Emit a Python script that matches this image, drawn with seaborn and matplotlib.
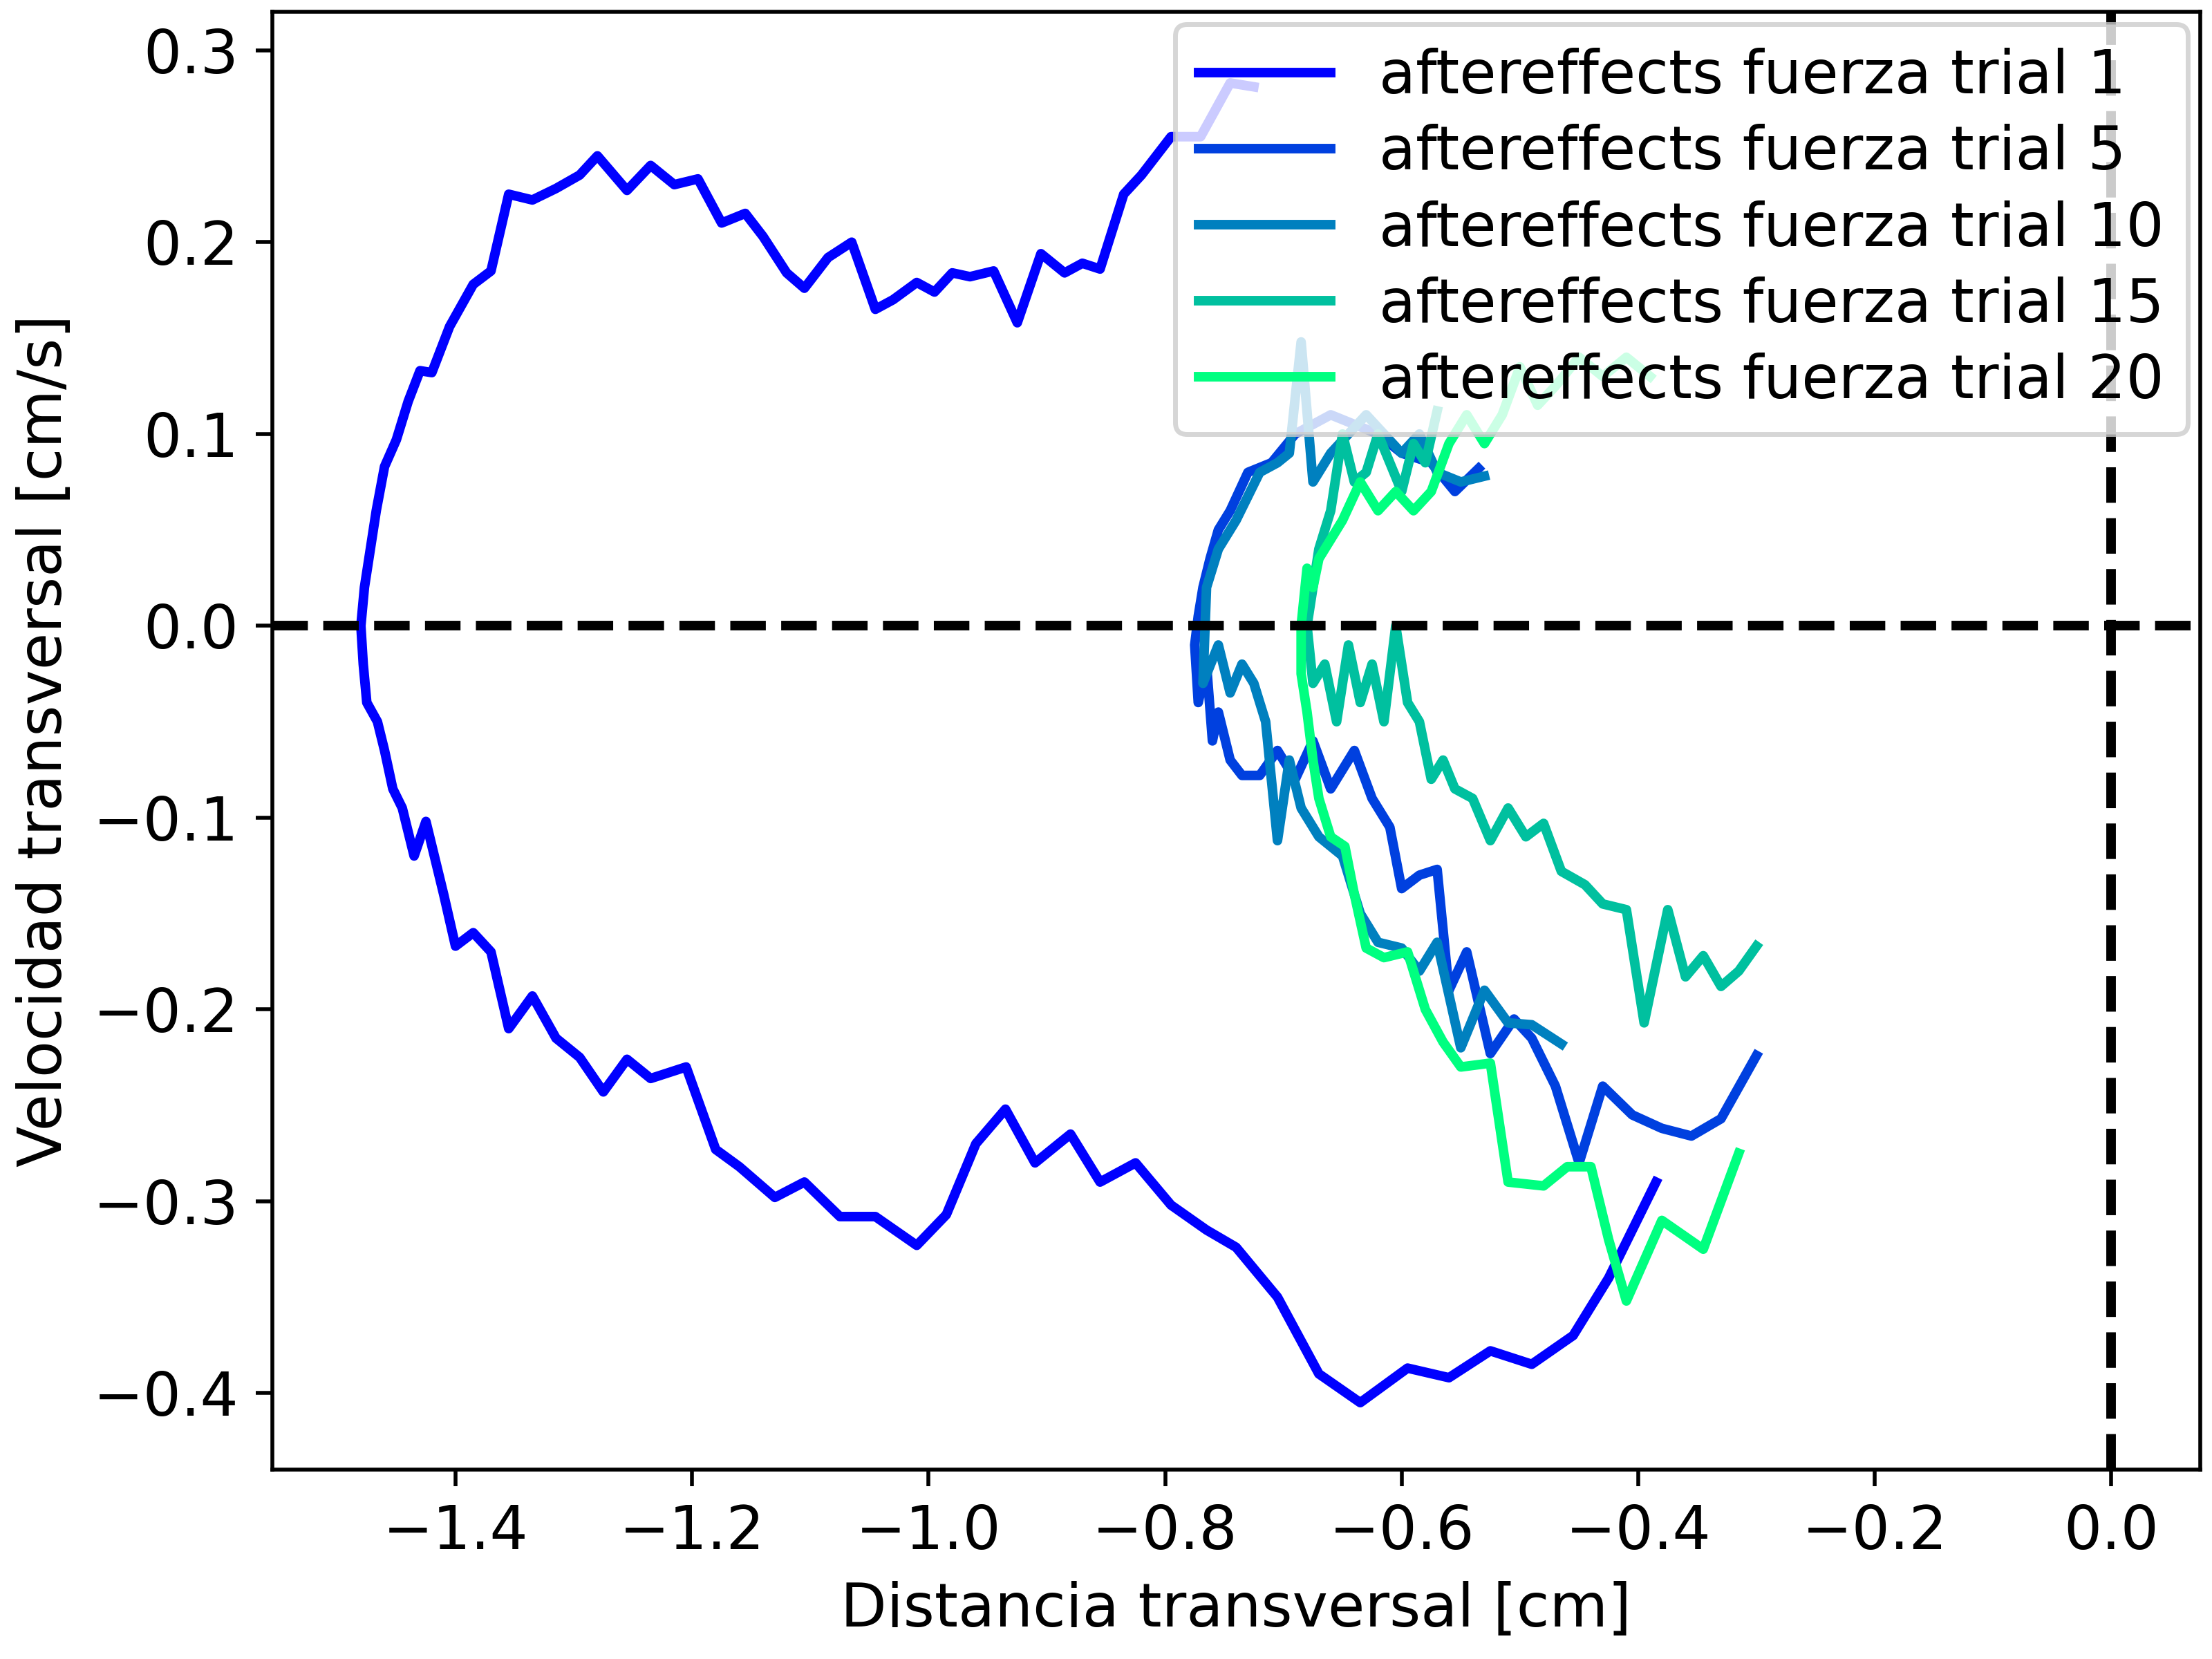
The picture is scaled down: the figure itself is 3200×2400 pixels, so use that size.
import numpy as np
import pandas as pd
import matplotlib
matplotlib.use("Agg")
import matplotlib.pyplot as plt
import seaborn as sns

trial1_x = [-0.725, -0.745, -0.77, -0.795, -0.82, -0.835, -0.855, -0.87, -0.885, -0.905, -0.925, -0.945, -0.965, -0.98, -0.995, -1.01, -1.03, -1.045, -1.065, -1.085, -1.105, -1.12, -1.14, -1.155, -1.175, -1.195, -1.215, -1.235, -1.255, -1.28, -1.295, -1.315, -1.335, -1.355, -1.37, -1.385, -1.405, -1.42, -1.43, -1.44, -1.45, -1.46, -1.467, -1.472, -1.477, -1.48, -1.478, -1.475, -1.466, -1.46, -1.453, -1.445, -1.435, -1.425, -1.41, -1.4, -1.385, -1.37, -1.355, -1.335, -1.315, -1.295, -1.275, -1.255, -1.235, -1.205, -1.18, -1.16, -1.13, -1.105, -1.075, -1.045, -1.01, -0.985, -0.96, -0.935, -0.91, -0.88, -0.855, -0.825, -0.795, -0.765, -0.74, -0.705, -0.67, -0.635, -0.595, -0.56, -0.525, -0.49, -0.455, -0.425, -0.405, -0.385]
trial1_y = [0.281, 0.283, 0.255, 0.255, 0.235, 0.225, 0.186, 0.189, 0.184, 0.194, 0.158, 0.185, 0.182, 0.184, 0.174, 0.179, 0.17, 0.165, 0.2, 0.192, 0.176, 0.184, 0.203, 0.215, 0.21, 0.233, 0.23, 0.24, 0.227, 0.245, 0.235, 0.228, 0.222, 0.225, 0.185, 0.178, 0.156, 0.132, 0.133, 0.117, 0.097, 0.083, 0.06, 0.04, 0.02, 0.0, -0.02, -0.04, -0.05, -0.065, -0.085, -0.095, -0.12, -0.102, -0.14, -0.167, -0.16, -0.17, -0.21, -0.193, -0.215, -0.225, -0.243, -0.226, -0.236, -0.23, -0.273, -0.282, -0.298, -0.29, -0.308, -0.308, -0.323, -0.307, -0.27, -0.252, -0.28, -0.265, -0.29, -0.28, -0.302, -0.315, -0.324, -0.35, -0.39, -0.405, -0.387, -0.392, -0.378, -0.385, -0.37, -0.34, -0.315, -0.29]

trial5_x = [-0.535, -0.555, -0.575, -0.6, -0.62, -0.64, -0.66, -0.675, -0.69, -0.71, -0.73, -0.745, -0.755, -0.762, -0.768, -0.772, -0.775, -0.772, -0.765, -0.76, -0.755, -0.745, -0.735, -0.72, -0.705, -0.69, -0.675, -0.66, -0.64, -0.625, -0.61, -0.6, -0.585, -0.57, -0.56, -0.545, -0.525, -0.505, -0.49, -0.47, -0.45, -0.43, -0.405, -0.38, -0.355, -0.33, -0.3]
trial5_y = [0.082, 0.07, 0.085, 0.09, 0.1, 0.105, 0.11, 0.105, 0.1, 0.085, 0.08, 0.06, 0.05, 0.035, 0.02, 0.005, -0.01, -0.04, -0.02, -0.06, -0.045, -0.07, -0.078, -0.078, -0.065, -0.08, -0.06, -0.085, -0.065, -0.09, -0.105, -0.137, -0.13, -0.127, -0.19, -0.17, -0.223, -0.205, -0.215, -0.24, -0.28, -0.24, -0.255, -0.262, -0.266, -0.257, -0.224]

trial10_x = [-0.53, -0.55, -0.57, -0.585, -0.6, -0.615, -0.63, -0.645, -0.66, -0.675, -0.685, -0.695, -0.705, -0.72, -0.74, -0.755, -0.765, -0.768, -0.755, -0.745, -0.735, -0.725, -0.715, -0.705, -0.695, -0.685, -0.67, -0.65, -0.635, -0.62, -0.6, -0.585, -0.57, -0.55, -0.53, -0.51, -0.49, -0.465]
trial10_y = [0.078, 0.075, 0.08, 0.1, 0.09, 0.1, 0.11, 0.1, 0.09, 0.075, 0.148, 0.09, 0.085, 0.08, 0.055, 0.04, 0.02, -0.03, -0.01, -0.035, -0.02, -0.03, -0.05, -0.112, -0.07, -0.095, -0.11, -0.12, -0.15, -0.165, -0.168, -0.18, -0.165, -0.22, -0.19, -0.207, -0.208, -0.218]

trial15_x = [-0.57, -0.58, -0.59, -0.6, -0.61, -0.62, -0.63, -0.64, -0.65, -0.66, -0.67, -0.675, -0.68, -0.675, -0.665, -0.655, -0.645, -0.635, -0.625, -0.615, -0.605, -0.595, -0.585, -0.575, -0.565, -0.555, -0.54, -0.525, -0.51, -0.495, -0.48, -0.465, -0.445, -0.43, -0.41, -0.395, -0.375, -0.36, -0.345, -0.33, -0.315, -0.3]
trial15_y = [0.112, 0.085, 0.095, 0.07, 0.085, 0.1, 0.08, 0.075, 0.1, 0.06, 0.04, 0.02, 0.0, -0.03, -0.02, -0.05, -0.01, -0.04, -0.02, -0.05, 0.0, -0.04, -0.05, -0.08, -0.07, -0.085, -0.09, -0.112, -0.095, -0.11, -0.103, -0.128, -0.135, -0.145, -0.148, -0.207, -0.148, -0.183, -0.172, -0.188, -0.18, -0.167]

trial20_x = [-0.39, -0.41, -0.43, -0.45, -0.47, -0.485, -0.5, -0.515, -0.53, -0.545, -0.56, -0.575, -0.59, -0.605, -0.62, -0.635, -0.65, -0.66, -0.67, -0.675, -0.68, -0.685, -0.685, -0.68, -0.675, -0.67, -0.66, -0.648, -0.64, -0.63, -0.615, -0.595, -0.58, -0.565, -0.55, -0.525, -0.51, -0.48, -0.46, -0.44, -0.425, -0.41, -0.38, -0.345, -0.315]
trial20_y = [0.13, 0.14, 0.13, 0.14, 0.125, 0.115, 0.135, 0.11, 0.095, 0.11, 0.095, 0.07, 0.06, 0.07, 0.06, 0.075, 0.055, 0.045, 0.035, 0.02, 0.03, 0.0, -0.025, -0.045, -0.07, -0.09, -0.11, -0.115, -0.14, -0.168, -0.173, -0.17, -0.2, -0.217, -0.23, -0.228, -0.29, -0.292, -0.282, -0.282, -0.32, -0.352, -0.31, -0.325, -0.275]

trials = [1, 5, 10, 15, 20]
xs = [trial1_x, trial5_x, trial10_x, trial15_x, trial20_x]
ys = [trial1_y, trial5_y, trial10_y, trial15_y, trial20_y]

frames = []
for t, x, y in zip(trials, xs, ys):
    frames.append(pd.DataFrame({"x": x, "y": y, "step": np.arange(len(x)),
                                "trial": f"aftereffects fuerza trial {t}"}))
df = pd.concat(frames, ignore_index=True)

colors = plt.cm.winter(np.linspace(0, 1, len(trials)))
palette = dict(zip(df["trial"].unique(), colors))

plt.rcParams["font.size"] = 12.5

fig, ax = plt.subplots(figsize=(6.4, 4.8))
sns.lineplot(data=df, x="x", y="y", hue="trial", units="trial", estimator=None,
             sort=False, palette=palette, linewidth=2, ax=ax)
ax.axhline(0, color="black", linestyle="--", linewidth=2)
ax.axvline(0, color="black", linestyle="--", linewidth=2)
ax.set_xlim(-1.555, 0.075)
ax.set_ylim(-0.44, 0.32)
ax.set_xlabel("Distancia transversal [cm]")
ax.set_ylabel("Velocidad transversal [cm/s]")
ax.legend(loc="upper right", fontsize=12.5, title=None, borderaxespad=0.2,
          labelspacing=0.3, handlelength=2.2)

plt.tight_layout(pad=0.2)
plt.savefig("out.png", dpi=500)
